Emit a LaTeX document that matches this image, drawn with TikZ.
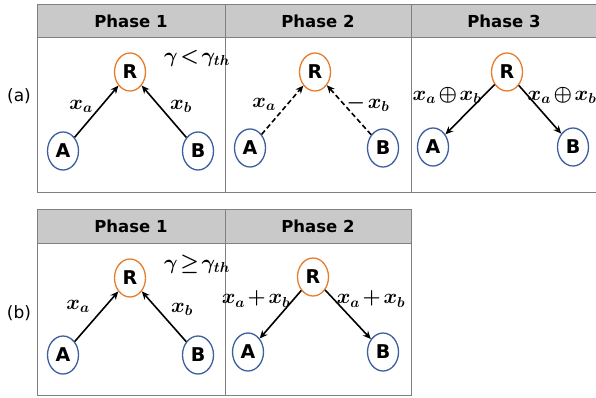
\documentclass[tikz,border=0pt]{standalone}
\usepackage{fontspec}
\usepackage{amsmath}
\setsansfont{DejaVu Sans}
\usetikzlibrary{shapes.geometric,arrows.meta}

\definecolor{framegray}{RGB}{128,128,128}
\definecolor{headgray}{RGB}{201,201,201}
\definecolor{relayorange}{RGB}{230,125,45}
\definecolor{userblue}{RGB}{60,95,160}

\newcommand{\tsp}{\mkern2mu}

\tikzset{
  frame/.style={draw=framegray, line width=1pt},
  headband/.style={fill=headgray, draw=framegray, line width=1pt},
  headtext/.style={font=\fontsize{16.5}{18}\selectfont\sffamily\bfseries},
  tag/.style={font=\fontsize{17}{19}\selectfont\sffamily},
  relay/.style={ellipse, draw=relayorange, line width=1.3pt, minimum width=31pt,
    minimum height=38pt, inner sep=0pt, fill=white,
    font=\fontsize{19}{20}\selectfont\sffamily\bfseries},
  user/.style={relay, draw=userblue},
  link/.style={-{Stealth[length=8pt,width=7pt]}, line width=1.6pt},
  weak/.style={link, dash pattern=on 5pt off 3pt},
  lab/.style={font=\fontsize{20}{22}\selectfont\boldmath, inner sep=0pt}
}

\begin{document}
\begin{tikzpicture}[x=1pt,y=-1pt]
\useasboundingbox (0,0) rectangle (596,398);

% ---------- panel (a): three phases ----------
\fill[white] (37,5) rectangle (600,192);
\draw[headband] (37,5) rectangle (600,38);
\draw[frame] (37,5) rectangle (600,192);
\draw[frame] (225,5) -- (225,192);
\draw[frame] (411,5) -- (411,192);
\node[headtext] (ha1) at (131,21) {Phase 1};
\node[headtext] (ha2) at (318,21) {Phase 2};
\node[headtext] (ha3) at (504,21) {Phase 3};
\node[tag] (taga) at (19,96) {(a)};

% phase 1
\node[relay] (aR1) at (130,72) {R};
\node[user]  (aA1) at (63,151) {A};
\node[user]  (aB1) at (198,151) {B};
\draw[link] (aA1) -- (aR1);
\draw[link] (aB1) -- (aR1);
\node[lab] (axa1) at (81,106) {$x_a$};
\node[lab] (axb1) at (181,106) {$x_b$};
\node[lab] (agam) at (197,58) {$\gamma\tsp{<}\tsp\gamma_{th}$};

% phase 2
\node[relay] (aR2) at (315,72) {R};
\node[user]  (aA2) at (250,148) {A};
\node[user]  (aB2) at (383,148) {B};
\draw[weak] (aA2) -- (aR2);
\draw[weak] (aB2) -- (aR2);
\node[lab] (axa2) at (264,104) {$x_a$};
\node[lab] (axb2) at (368,103) {$-\tsp x_b$};

% phase 3
\node[relay] (aR3) at (507,72) {R};
\node[user]  (aA3) at (433,147) {A};
\node[user]  (aB3) at (573,147) {B};
\draw[link] (aR3) -- (aA3);
\draw[link] (aR3) -- (aB3);
\node[lab] (axor1) at (447,95) {$x_a\tsp{\oplus}\tsp x_b$};
\node[lab] (axor2) at (562,95) {$x_a\tsp{\oplus}\tsp x_b$};

% ---------- panel (b): two phases ----------
\draw[headband] (37,209) rectangle (411,243);
\draw[frame] (37,209) rectangle (411,395);
\draw[frame] (225,209) -- (225,395);
\node[headtext] (hb1) at (131,226) {Phase 1};
\node[headtext] (hb2) at (318,226) {Phase 2};
\node[tag] (tagb) at (19,313) {(b)};

% phase 1
\node[relay] (bR1) at (130,278) {R};
\node[user]  (bA1) at (63,355) {A};
\node[user]  (bB1) at (198,355) {B};
\draw[link] (bA1) -- (bR1);
\draw[link] (bB1) -- (bR1);
\node[lab] (bxa1) at (78,306) {$x_a$};
\node[lab] (bxb1) at (182,309) {$x_b$};
\node[lab] (bgam) at (197,264) {$\gamma\tsp{\geq}\tsp\gamma_{th}$};

% phase 2
\node[relay] (bR2) at (313,277) {R};
\node[user]  (bA2) at (248,352) {A};
\node[user]  (bB2) at (383,352) {B};
\draw[link] (bR2) -- (bA2);
\draw[link] (bR2) -- (bB2);
\node[lab] (bsum1) at (256,299) {$x_a\tsp{+}\tsp x_b$};
\node[lab] (bsum2) at (371,299) {$x_a\tsp{+}\tsp x_b$};
\end{tikzpicture}
\end{document}
